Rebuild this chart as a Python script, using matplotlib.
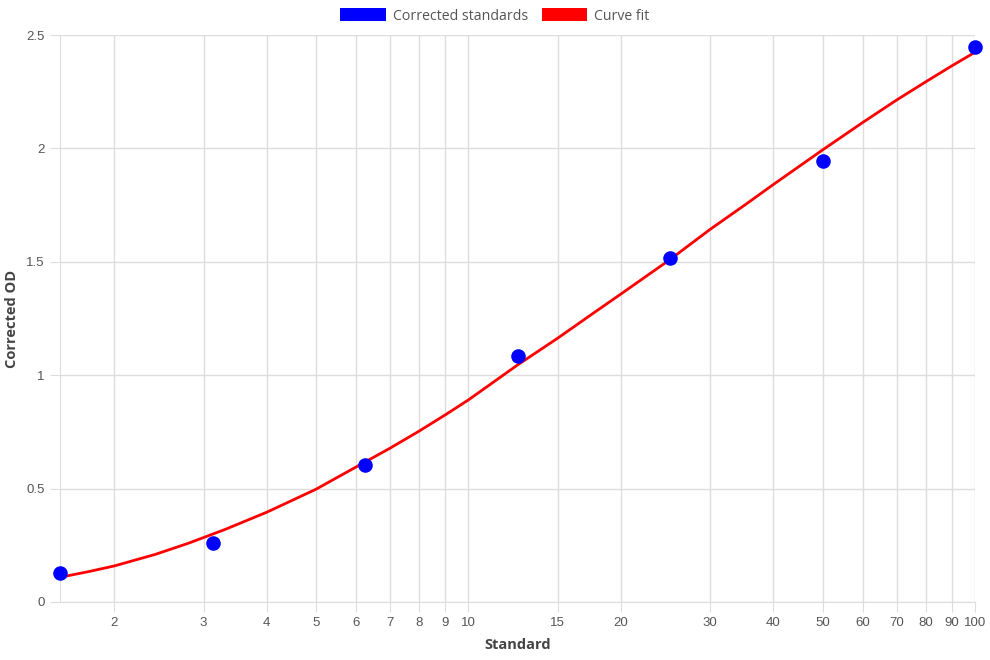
import matplotlib
matplotlib.use("Agg")
import matplotlib.pyplot as plt
from matplotlib.patches import Patch
from matplotlib.ticker import FixedLocator, NullLocator

# standards (serial dilution) and measured corrected OD
std_x = [1.5625, 3.125, 6.25, 12.5, 25, 50, 100]
std_od = [0.128, 0.26, 0.604, 1.085, 1.517, 1.944, 2.447]

# curve fit
fit_x = [1.5625, 1.78, 2, 2.41, 2.8, 3.31, 4, 5, 6.02, 7, 8, 9, 10, 12.5, 15,
         17.5, 20, 25, 30, 35, 40, 50, 60, 70, 80, 90, 100]
fit_od = [0.109, 0.134, 0.159, 0.210, 0.259, 0.320, 0.396, 0.497, 0.597, 0.678,
          0.754, 0.825, 0.891, 1.045, 1.163, 1.268, 1.358, 1.510, 1.643, 1.748, 1.841,
          1.993, 2.114, 2.213, 2.294, 2.364, 2.424]

x_ticks = [2, 3, 4, 5, 6, 7, 8, 9, 10, 15, 20, 30, 40, 50, 60, 70, 80, 90, 100]
y_ticks = [0, 0.5, 1, 1.5, 2, 2.5]
y_labels = ["0", "0.5", "1", "1.5", "2", "2.5"]

grid_c = "#dddddd"
text_c = "#555555"
title_c = "#444444"

fig = plt.figure(figsize=(9.9, 6.6), dpi=100)
ax = fig.add_axes([60 / 990, 58 / 660, 915 / 990, 567 / 660])

ax.plot(fit_x, fit_od, color="#ff0000", lw=2, zorder=3, solid_joinstyle="round")
ax.scatter(std_x, std_od, s=110, color="#0000ff", zorder=4, linewidths=0, clip_on=False)

ax.set_xscale("log")
ax.set_xlim(1.5625, 100)
ax.set_ylim(0, 2.5)
ax.xaxis.set_major_locator(FixedLocator(x_ticks))
ax.xaxis.set_minor_locator(NullLocator())
ax.set_xticks(x_ticks)
ax.set_xticklabels([str(t) for t in x_ticks])
ax.set_yticks(y_ticks)
ax.set_yticklabels(y_labels)

ax.grid(True, color=grid_c, lw=1)
ax.set_axisbelow(True)
for side in ["top", "right"]:
    ax.spines[side].set_visible(False)
for side in ["left", "bottom"]:
    ax.spines[side].set_color(grid_c)
ax.tick_params(axis="both", length=7, color=grid_c, labelcolor=text_c,
               labelsize=9.5, pad=4)
for lab in ax.get_xticklabels() + ax.get_yticklabels():
    lab.set_fontfamily("Liberation Sans")

ax.set_xlabel("Standard", fontsize=10.5, fontweight="bold", color=title_c, labelpad=6,
              family="Open Sans")
ax.set_ylabel("Corrected OD", fontsize=10.5, fontweight="bold", color=title_c, labelpad=5,
              family="Open Sans")

handles = [Patch(facecolor="#0000ff", label="Corrected standards"),
           Patch(facecolor="#ff0000", label="Curve fit")]
fig.legend(handles=handles, loc="center", bbox_to_anchor=(0.5, 1 - 16 / 660), ncol=2,
           frameon=False, handlelength=3.2, handleheight=1.0, handletextpad=0.5,
           columnspacing=1.0, prop={"family": "Open Sans", "size": 10.2},
           labelcolor=text_c)

fig.savefig("out.png", dpi=100)
